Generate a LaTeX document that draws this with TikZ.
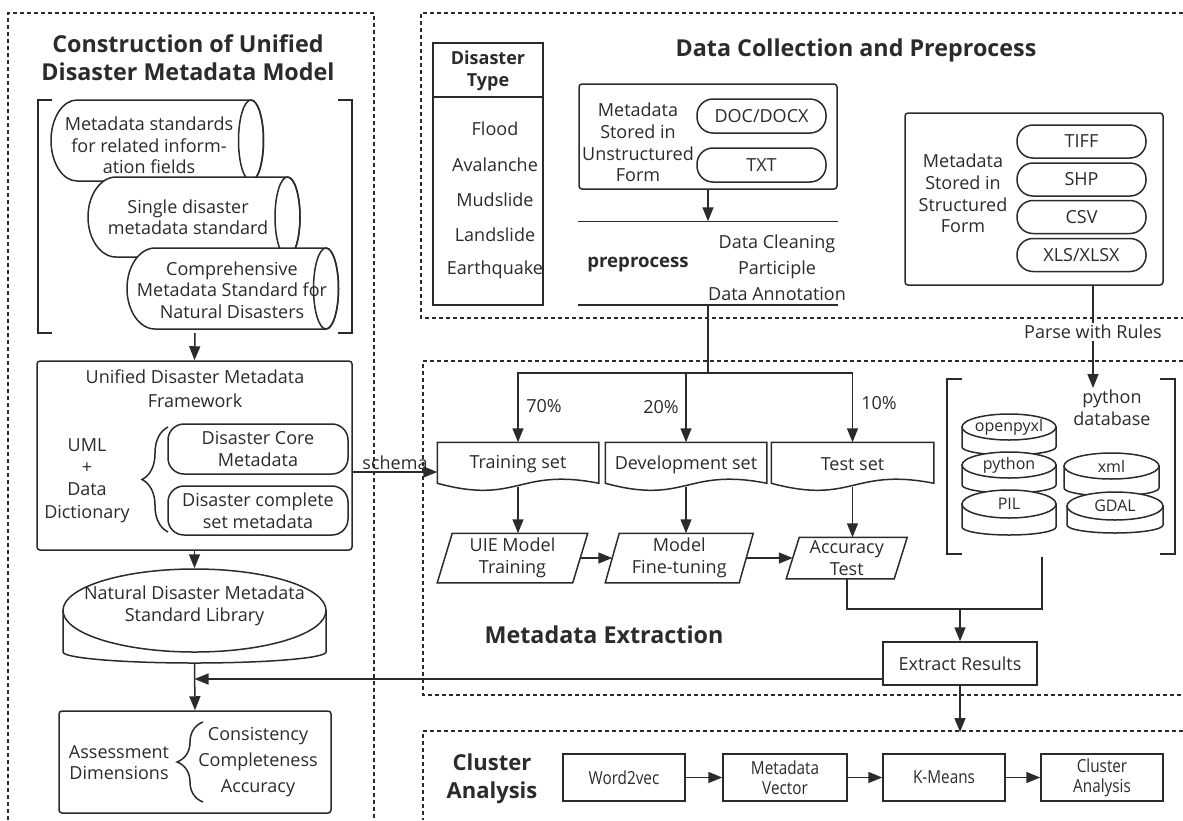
\documentclass[tikz,border=0pt]{standalone}
\usepackage{fontspec}
\setmainfont{Open Sans}
\newfontfamily\condfont[FakeStretch=0.85]{Open Sans}
\usetikzlibrary{arrows.meta,decorations.pathreplacing,calc}
\definecolor{ink}{HTML}{2B2B2B}
\newcommand\hcyl[5]{%
  \pgfmathsetmacro\myry{(#4-#3)/2}
  \filldraw[fill=white] (#2,#3) -- ({#1+#5},#3) arc[start angle=90,end angle=270,x radius=#5pt,y radius=\myry pt] -- (#2,#4) arc[start angle=-90,end angle=90,x radius=12.5pt,y radius=\myry pt] -- cycle;
  \draw ({#2},{(#3+#4)/2}) ellipse[x radius=12.5pt,y radius=\myry pt];
}
\newcommand\vcyl[6]{%
  \filldraw[fill=white] ({#1-#2},{#3+#4}) -- ({#1-#2},{#3+#4+#5}) arc[start angle=180,end angle=360,x radius=#2pt,y radius=#6pt] -- ({#1+#2},{#3+#4}) -- cycle;
  \filldraw[fill=white] (#1,{#3+#4}) ellipse[x radius=#2pt,y radius=#4pt];
}
\newcommand\docshape[1]{%
  \draw (#1.north west) -- (#1.north east) -- ($(#1.north east)+(0,41)$) .. controls ($(#1.north)+(0,25)$) and ($(#1.north)+(0,63)$) .. ($(#1.north west)+(0,41)$) -- cycle;
}
\newcommand\paragram[2]{%
  \draw ($(#1.north west)+(#2,0)$) -- ($(#1.north east)+(#2,0)$) -- ($(#1.south east)+(-#2,0)$) -- ($(#1.south west)+(-#2,0)$) -- cycle;
}
\begin{document}
\begin{tikzpicture}[x=1pt,y=-1pt,line width=1.5pt,color=ink,
  every node/.style={font=\fontsize{18}{21.5}\selectfont, align=center, inner sep=0pt, text=ink},
  arr/.style={-{Triangle[width=11pt,length=14pt]}},
  panel/.style={dash pattern=on 4pt off 3pt, line width=1.6pt},
  rbox/.style={draw, fill=white, rounded corners=3pt},
  sq/.style={draw, fill=white},
  pill/.style={draw, fill=white, rounded corners=16pt},
  ttl/.style={font=\bfseries\fontsize{23.3}{28}\selectfont},
  cond/.style={font=\condfont\fontsize{18}{20}\selectfont},
]
\useasboundingbox (0,0) rectangle (1183,820);
% panels
\draw[panel] (8,820) -- (8,13) -- (374,13) -- (374,820);
\draw[panel] (1183,13) -- (421,13) -- (421,318) -- (1183,318);
\draw[panel] (1183,361) -- (423,361) -- (423,695) -- (1183,695);
\draw[panel] (1183,731) -- (423,731) -- (423,820);

% ===== left panel =====
\node[ttl] (t1) at (188,57.5) {Construction of Unified\\Disaster Metadata Model};
\draw (52,100) -- (38,100) -- (38,333) -- (52,333);
\draw (338,100) -- (352,100) -- (352,333) -- (338,333);
\hcyl{51}{251}{100}{181}{26}
\node (c1) at (149,145.5) {Metadata standards\\for related inform-\\ation fields};
\hcyl{88}{287.5}{177}{257}{28}
\node (c2) at (188,217) {Single disaster\\metadata standard};
\hcyl{127}{326}{248}{329}{28}
\node (c3) at (232,290) {Comprehensive\\Metadata Standard for\\Natural Disasters};
\coordinate (brb) at (195,333);

\node[rbox, minimum width=315pt, minimum height=189pt] (fw) at (194.5,455.5) {};
\node[font=\fontsize{18}{24}\selectfont] (fwt) at (195,389) {Unified Disaster Metadata\\Framework};
\node[font=\fontsize{18}{22.3}\selectfont] (uml) at (87,480.5) {UML\\+\\Data\\Dictionary};
\draw[decorate,decoration={brace,amplitude=26pt}] (168,532) -- (168,427);
\node[pill, minimum width=180pt, minimum height=50pt] (core) at (258,449) {Disaster Core\\Metadata};
\node[pill, minimum width=180pt, minimum height=49pt] (comp) at (258,510.5) {Disaster complete\\set metadata};
\draw[arr] (brb) -- (fw.north);

\vcyl{194.5}{131.5}{569}{41.5}{41.5}{11}
\node[minimum width=263pt, minimum height=94pt] (lib) at (194.5,616) {};
\node (libt) at (194.5,606) {Natural Disaster Metadata\\Standard Library};
\draw[arr] (fw.south) -- (lib.north);

\node[rbox, minimum width=272pt, minimum height=102pt] (as) at (195,762) {};
\node[font=\fontsize{18}{21}\selectfont] (ad) at (119,762.5) {Assessment\\Dimensions};
\draw[decorate,decoration={brace,amplitude=26pt}] (203,802) -- (203,722);
\node[font=\fontsize{18}{26}\selectfont] (ai) at (258,762) {Consistency\\Completeness\\Accuracy};
\coordinate (libj) at (194.5,679);
\draw[arr] (lib.south) -- (as.north);

% ===== top panel =====
\node[ttl] (t2) at (856,50) {Data Collection and Preprocess};
\node[sq, minimum width=110pt, minimum height=262pt] (dt) at (488,174) {};
\draw (dt.west |- 0,97) -- (dt.east |- 0,97);
\node[font=\bfseries\fontsize{18}{22}\selectfont] (dth) at (488,71) {Disaster\\Type};
\node (d1) at (495,129) {Flood};
\node (d2) at (495,164.5) {Avalanche};
\node (d3) at (495,200) {Mudslide};
\node (d4) at (495,235) {Landslide};
\node (d5) at (495,270) {Earthquake};

\node[rbox, minimum width=258pt, minimum height=105pt] (un) at (708,136.5) {};
\node[font=\fontsize{18}{21.7}\selectfont] (unt) at (638,142.5) {Metadata\\Stored in\\Unstructured\\Form};
\node[pill, minimum width=129pt, minimum height=34pt] (doc) at (761.5,116) {DOC/DOCX};
\node[pill, minimum width=129pt, minimum height=34pt] (txt) at (761.5,165) {TXT};
\node[minimum width=258pt, minimum height=82pt] (prep) at (708,263) {};
\draw (prep.north west) -- (prep.north east);
\draw (prep.south west) -- (prep.south east);
\node[font=\bfseries\fontsize{18.6}{21}\selectfont] (ppt) at (638,265) {preprocess};
\node[font=\fontsize{18}{26}\selectfont] (pps) at (777,267.5) {Data Cleaning\\Participle\\Data Annotation};
\draw[arr] (un.south) -- (prep.north);

\node[rbox, minimum width=258pt, minimum height=172pt] (st) at (1034,199) {};
\node[font=\fontsize{18}{21.7}\selectfont] (stt) at (963,193.5) {Metadata\\Stored in\\Structured\\Form};
\node[pill, minimum width=129pt, minimum height=33pt] (tiff) at (1081.5,141.5) {TIFF};
\node[pill, minimum width=129pt, minimum height=33pt] (shp) at (1081.5,179.5) {SHP};
\node[pill, minimum width=129pt, minimum height=33pt] (csv) at (1081.5,217) {CSV};
\node[pill, minimum width=129pt, minimum height=33pt] (xls) at (1081.5,255) {XLS/XLSX};

\coordinate (pin) at (1093,388);
\draw[arr] (st.south -| pin) -- (pin);
\node[fill=white, inner sep=2pt] (parse) at (1093,332) {Parse with Rules};

% ===== metadata extraction =====
\node[ttl] (t3) at (604,635) {Metadata Extraction};
\coordinate (split) at (708,373);
\node[minimum width=160pt, minimum height=43pt] (train) at (518,464.5) {Training set};
\node[minimum width=160pt, minimum height=43pt] (dev) at (686,464.5) {Development set};
\node[minimum width=161pt, minimum height=43pt] (test) at (852.5,464.5) {Test set};
\docshape{train}
\docshape{dev}
\docshape{test}
\draw (prep.south) -- (split);
\draw[arr] (split) -| (train.north);
\draw[arr] (split) -| (dev.north);
\draw[arr] (split) -| (test.north);
\node (l70) at (544,406) {70\%};
\node (l20) at (661,407) {20\%};
\node (l10) at (879,403) {10\%};

\node[minimum width=134pt, minimum height=48pt] (p1) at (512.5,558) {UIE Model\\Training};
\node[minimum width=132.5pt, minimum height=48pt] (p2) at (679.25,558) {Model\\Fine-tuning};
\node[minimum width=106.5pt, minimum height=40pt] (p3) at (846.75,558) {Accuracy\\Test};
\paragram{p1}{7.5}
\paragram{p2}{7}
\paragram{p3}{6.5}
\draw[arr] (train.south) -- (train.south |- p1.north);
\draw[arr] (dev.south) -- (dev.south |- p2.north);
\draw[arr] (test.south) -- (test.south |- p3.north);
\draw[arr] (p1.east) -- (p2.west);
\draw[arr] (p2.east) -- (p3.west);

% python database
\draw (962,379) -- (947,379) -- (947,554) -- (962,554);
\draw (1160,379) -- (1175,379) -- (1175,554) -- (1160,554);
\node (pydb) at (1112,407.5) {python\\database};
\vcyl{1009}{47}{414}{13}{20}{8}
\node[font=\fontsize{16}{20}\selectfont] (db1) at (1009,427) {openpyxl};
\vcyl{1009}{47}{452}{13}{20}{8}
\node[font=\fontsize{16}{20}\selectfont] (db2) at (1009,465) {python};
\vcyl{1009}{47}{490}{14}{23}{8}
\node[font=\fontsize{16}{20}\selectfont] (db3) at (1009,504) {PIL};
\vcyl{1111.5}{47.5}{453}{13}{22}{8}
\node[font=\fontsize{16}{20}\selectfont] (db4) at (1111.5,466) {xml};
\vcyl{1115}{48}{492}{14}{19}{8}
\node[font=\fontsize{16}{20}\selectfont] (db5) at (1115,506) {GDAL};

\node[sq, minimum width=154pt, minimum height=43pt] (ext) at (960,663.5) {Extract Results};
\coordinate (join) at (960,609);
\coordinate (pyb) at (1042,557);
\draw (p3.south) |- (join);
\draw (pyb) |- (join);
\draw[arr] (join) -- (ext.north);
\draw[arr] (ext.south west |- libj) -- (libj);
\coordinate (ctop) at (960,732);
\draw[arr] (ext.south) -- (ctop);

% schema
\coordinate (schy) at (0,472);
\draw[arr] (fw.east |- schy) -- (train.west |- schy) node[midway, above=2pt] (sch) {schema};

% ===== cluster =====
\node[font=\bfseries\fontsize{22}{28}\selectfont] (clt) at (492,779) {Cluster\\Analysis};
\node[sq, cond, minimum width=122pt, minimum height=47pt] (w2v) at (624,777.5) {Word2vec};
\node[sq, cond, minimum width=124pt, minimum height=47pt] (mv) at (785,777.5) {Metadata\\Vector};
\node[sq, cond, minimum width=122pt, minimum height=47pt] (km) at (944,777.5) {K-Means};
\node[sq, cond, minimum width=122pt, minimum height=47pt] (ca) at (1102,777.5) {Cluster\\Analysis};
\draw[arr] (w2v) -- (mv);
\draw[arr] (mv) -- (km);
\draw[arr] (km) -- (ca);
\end{tikzpicture}
\end{document}
